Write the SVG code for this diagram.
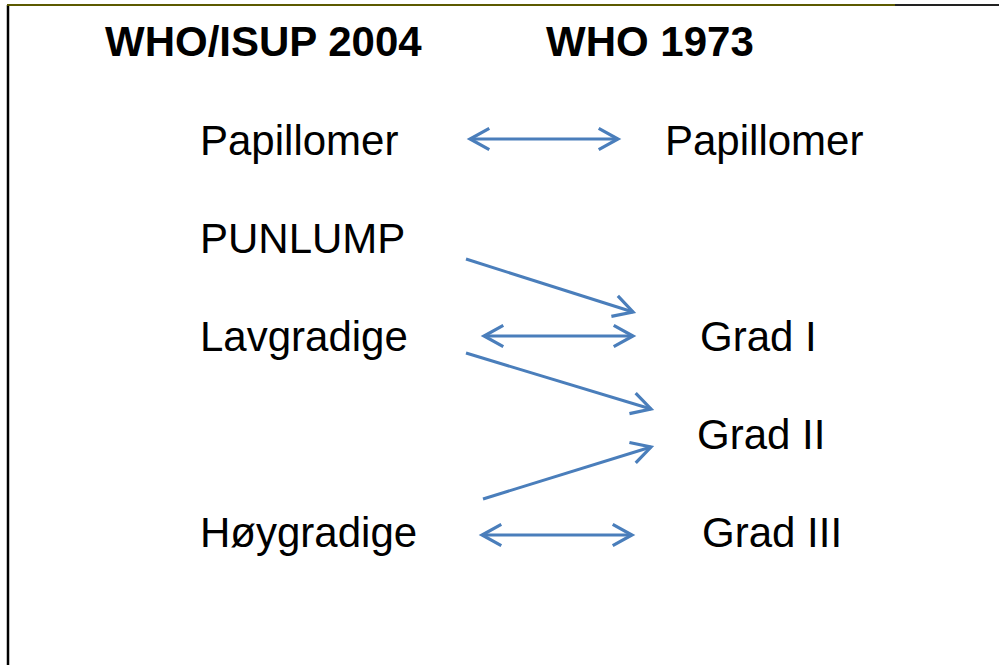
<svg xmlns="http://www.w3.org/2000/svg" width="999" height="665" viewBox="0 0 999 665">
<defs>
<style>
.t{font-family:"Liberation Sans",Arial,sans-serif;font-size:42px;fill:#000}
.h{font-weight:bold}
.c{stroke:#4a7ebb;stroke-width:3;fill:none}
</style>
<marker id="ah" markerUnits="userSpaceOnUse" markerWidth="30" markerHeight="30" refX="0" refY="0" viewBox="-22 -14 26 28" orient="auto-start-reverse">
<path d="M-18,-10 L0,0 L-18,10" fill="none" stroke="#4a7ebb" stroke-width="3"/>
</marker>
</defs>
<rect width="999" height="665" fill="#fff"/>
<line x1="8" y1="5" x2="8" y2="665" stroke="#000" stroke-width="2.5"/>
<line x1="7" y1="5" x2="895" y2="5" stroke="#5c5a00" stroke-width="2"/>
<line x1="895" y1="5" x2="999" y2="5" stroke="#222" stroke-width="2"/>
<g id="hdr-left"><text class="t h" x="105" y="56">WHO/ISUP 2004</text></g>
<g id="hdr-right"><text class="t h" x="546" y="56">WHO 1973</text></g>
<g id="papillomer-l"><text class="t" x="200" y="155">Papillomer</text></g>
<g id="papillomer-r"><text class="t" x="665" y="155">Papillomer</text></g>
<g id="punlump"><text class="t" x="200" y="253">PUNLUMP</text></g>
<g id="lavgradige"><text class="t" x="200" y="351">Lavgradige</text></g>
<g id="grad1"><text class="t" x="700" y="351">Grad I</text></g>
<g id="grad2"><text class="t" x="697" y="449">Grad II</text></g>
<g id="hoygradige"><text class="t" x="200" y="547">Høygradige</text></g>
<g id="grad3"><text class="t" x="702" y="547">Grad III</text></g>
<g id="connectors">
<line class="c" x1="470" y1="139" x2="618" y2="139" marker-start="url(#ah)" marker-end="url(#ah)"/>
<line class="c" x1="466" y1="259" x2="633" y2="312" marker-end="url(#ah)"/>
<line class="c" x1="484" y1="336" x2="633" y2="336" marker-start="url(#ah)" marker-end="url(#ah)"/>
<line class="c" x1="466" y1="353" x2="651" y2="409" marker-end="url(#ah)"/>
<line class="c" x1="483" y1="499" x2="651" y2="447" marker-end="url(#ah)"/>
<line class="c" x1="482" y1="535" x2="632" y2="535" marker-start="url(#ah)" marker-end="url(#ah)"/>
</g>
</svg>
